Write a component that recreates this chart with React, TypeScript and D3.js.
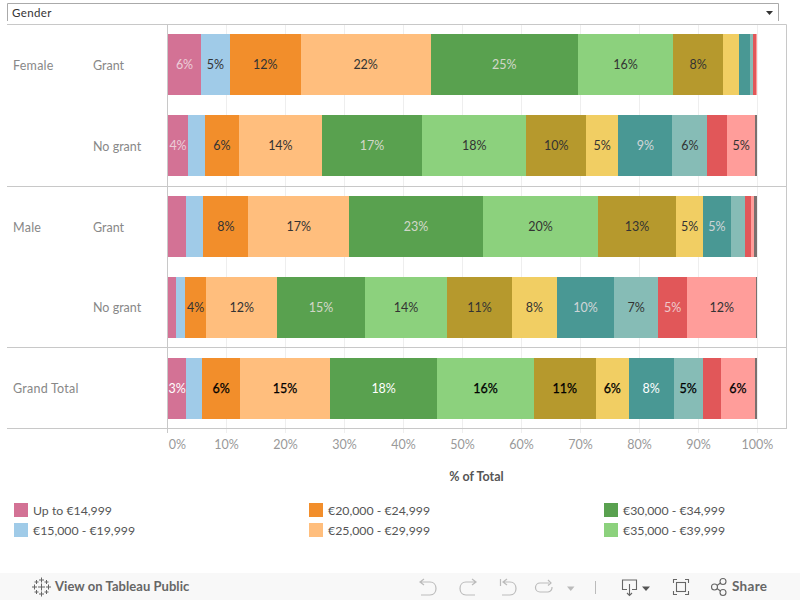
import React from 'react';
import * as d3 from 'd3';

// salary bands, only the first six make it into the legend
const bands = [
    'Up to €14,999', '€15,000 - €19,999', '€20,000 - €24,999', '€25,000 - €29,999',
    '€30,000 - €34,999', '€35,000 - €39,999', '€40,000 - €44,999', '€45,000 - €49,999',
    '€50,000 - €54,999', '€55,000 - €59,999', '€60,000 - €64,999', '€65,000 - €69,999', '€70,000 or more',
];
const colors = ['#D37295', '#A0CBE8', '#F28E2B', '#FFBE7D', '#59A14F', '#8CD17D', '#B6992D', '#F1CE63', '#499894', '#86BCB6', '#E15759', '#FF9D9A', '#79706E'];
const lightText = [0, 4, 8, 10]; // band indexes with pale labels

const rowIds = ['fg', 'fn', 'mg', 'mn', 'gt'];
const groupLabels = ['Female', '', 'Male', '', 'Grand Total'];
const grantLabels = ['Grant', 'No grant', 'Grant', 'No grant', ''];

const femaleGrant = [5.6, 4.9, 12.0, 22.0, 25.0, 16.1, 8.5, 2.7, 1.9, 0.5, 0.4, 0.2, 0.1];
const femaleNoGrant = [3.4, 2.9, 5.7, 14.1, 17.0, 17.6, 10.2, 5.4, 9.2, 5.9, 3.4, 4.7, 0.3];
const maleGrant = [3.1, 2.9, 7.6, 17.1, 22.7, 19.5, 13.2, 4.6, 4.7, 2.4, 1.0, 0.5, 0.5];
const maleNoGrant = [1.4, 1.5, 3.6, 12.0, 14.9, 13.9, 11.0, 7.6, 9.7, 7.5, 4.9, 11.7, 0.2];
const grandTotal = [3.1, 2.7, 6.4, 15.3, 18.1, 16.4, 10.5, 5.6, 7.6, 4.9, 3.1, 5.8, 0.3];
const rowValues = [femaleGrant, femaleNoGrant, maleGrant, maleNoGrant, grandTotal];

// which segments carry a label in the original
const femaleGrantLabels = ['6%', '5%', '12%', '22%', '25%', '16%', '8%', '', '', '', '', '', ''];
const femaleNoGrantLabels = ['4%', '', '6%', '14%', '17%', '18%', '10%', '5%', '9%', '6%', '', '5%', ''];
const maleGrantLabels = ['', '', '8%', '17%', '23%', '20%', '13%', '5%', '5%', '', '', '', ''];
const maleNoGrantLabels = ['', '', '4%', '12%', '15%', '14%', '11%', '8%', '10%', '7%', '5%', '12%', ''];
const grandTotalLabels = ['3%', '', '6%', '15%', '18%', '16%', '11%', '6%', '8%', '5%', '', '6%', ''];
const rowLabels = [femaleGrantLabels, femaleNoGrantLabels, maleGrantLabels, maleNoGrantLabels, grandTotalLabels];

const xTicks = [0, 10, 20, 30, 40, 50, 60, 70, 80, 90, 100];

const FONT = 'Lato, sans-serif';
const LINE = '#c8c8c8';

const plus = (cx: number, cy: number, r: number) => `M${cx - r} ${cy}h${2 * r}M${cx} ${cy - r}v${2 * r}`;

function Toolbar() {
    const stroke = '#bbb';
    return (
        <g>
            <rect x={0} y={573} width={800} height={27} fill="#f8f8f8" />
            {/* tableau mark */}
            <path
                d={[
                    plus(41.5, 587, 3.5),
                    plus(41.5, 580, 2.5), plus(41.5, 594, 2.5), plus(34.5, 587, 2.5), plus(48.5, 587, 2.5),
                    plus(36.5, 582, 2), plus(46.5, 582, 2), plus(36.5, 592, 2), plus(46.5, 592, 2),
                ].join('')}
                stroke="#666" strokeWidth={1} fill="none"
            />
            <text x={55} y={591} fontFamily={FONT} fontSize={13} fontWeight={700} fill="#666" letterSpacing={0.05}>View on Tableau Public</text>
            <g stroke={stroke} strokeWidth={1.2} fill="none">
                <path d="M424 579l-4 3 4 3M420 582h10c8 0 8 13 0 13h-9" />
                <path d="M472 579l4 3-4 3M476 582h-10c-8 0-8 13 0 13h9" />
                <path d="M500.500 579v7M507 579l-4 3 4 3M503 582h7c8 0 8 13 0 13h-8" />
                <path d="M549 583h-9a4.500 4.500 0 0 0 0 9h8a4.500 4.500 0 0 0 4-5M548 580l3 3-3 2.500" />
            </g>
            <path d="M567 586.500h7.500l-3.750 4.500z" fill={stroke} />
            <path d="M595.5 581v13" stroke={stroke} strokeWidth={1} />
            <g stroke="#666" strokeWidth={1.1} fill="none">
                <path d="M627 589.500h-4.500v-9.500h14v9.500h-4.500M629.500 584v11M627 593l2.500 2.500 2.500-2.500" />
                <path d="M677 579.500h-3.500v3.500M685 579.500h3.500v3.500M677 594.500h-3.500v-3.500M685 594.500h3.500v-3.500" />
                <rect x={676.5} y={582.5} width={9} height={9} />
                <circle cx={714.5} cy={587} r={3} />
                <circle cx={723} cy={581.5} r={3} />
                <circle cx={723} cy={592.5} r={3} />
                <path d="M717 585.500l3.500-2.500M717 588.500l3.500 2.500" />
            </g>
            <path d="M642 586.500h8l-4 4.500z" fill="#555" />
            <text x={732} y={591} fontFamily={FONT} fontSize={13.5} fontWeight={700} fill="#666" letterSpacing={0.3}>Share</text>
        </g>
    );
}

export default function App() {
    const x = d3.scaleLinear().domain([0, 100]).range([167.5, 757.5]);
    const barX = d3.scaleLinear().domain([0, 100]).range([168, 758]);
    const y = d3.scaleBand<string>().domain(rowIds).range([24.5, 428.5]).paddingInner(0.245).paddingOuter(0.1225);
    const color = d3.scaleOrdinal<string, string>().domain(bands).range(colors);

    const table = rowIds.map((id, r) => {
        const row: any = { id };
        bands.forEach((b, i) => { row[b] = rowValues[r][i]; });
        return row;
    });
    const series = d3.stack().keys(bands)(table);

    return (
        <svg width={800} height={600} style={{ position: 'absolute', left: 0, top: 0, background: '#fff' }} fontFamily={FONT}>
            {/* filter box */}
            <path d="M7.500 21V3.500H778.500V21" fill="none" stroke="#aaa" />
            <text x={12} y={17} fontSize={11.500} fill="#333" letterSpacing={0.4}>Gender</text>
            <path d="M766 11h7l-3.500 4z" fill="#333" />

            {/* grid */}
            {xTicks.map(t => (
                <line key={t} x1={x(t)} x2={x(t)} y1={24.5} y2={433} stroke="#eee" />
            ))}

            {/* bars */}
            {series.map((s, i) => s.map((d, r) => (
                <rect
                    key={bands[i] + r}
                    x={barX(d[0])}
                    y={y(rowIds[r])}
                    width={barX(d[1]) - barX(d[0])}
                    height={y.bandwidth()}
                    fill={color(bands[i])}
                    shapeRendering="crispEdges"
                />
            )))}
            {series.map((s, i) => s.map((d, r) => rowLabels[r][i] && (
                <text
                    key={bands[i] + r}
                    x={(barX(d[0]) + barX(d[1])) / 2}
                    y={y(rowIds[r])! + y.bandwidth() / 2 + 4.5}
                    textAnchor="middle"
                    fontSize={12.500}
                    fill={lightText.includes(i) ? (r === 4 ? '#fff' : '#f3e6ea') : (r === 4 ? '#000' : '#333')}
                    fillOpacity={lightText.includes(i) && r !== 4 ? 0.8 : 1}
                    stroke={r === 4 && !lightText.includes(i) ? '#000' : 'none'}
                    strokeWidth={0.25}
                >
                    {rowLabels[r][i]}
                </text>
            )))}

            {/* frame */}
            <path d="M7 24.500H786.500V429M7 186.500H786.500M7 347.500H786.500M7 428.500H786.500" fill="none" stroke={LINE} />
            <line x1={167.5} x2={167.5} y1={24.5} y2={433} stroke={LINE} />

            {/* row headers */}
            {rowIds.map((id, r) => (
                <g key={id} fontSize={12.500} fill="#888">
                    <text x={13} y={y(id)! + y.bandwidth() / 2 + 5} letterSpacing={0.25}>{groupLabels[r]}</text>
                    <text x={93} y={y(id)! + y.bandwidth() / 2 + 5}>{grantLabels[r]}</text>
                </g>
            ))}

            {/* axis */}
            {xTicks.map(t => (
                <text key={t} x={t === 0 ? 177.5 : x(t)} y={449} textAnchor="middle" fontSize={12.500} fill="#999">{t}%</text>
            ))}
            <text x={476.500} y={481} textAnchor="middle" fontSize={12.500} fontWeight={700} fill="#555">% of Total</text>

            {/* legend, filled by column */}
            {bands.slice(0, 6).map((b, i) => {
                const lx = [14, 309, 604][Math.floor(i / 2)];
                const ly = 503 + (i % 2) * 20;
                return (
                    <g key={b}>
                        <rect x={lx} y={ly} width={14} height={14} fill={color(b)} />
                        <text x={lx + 19} y={ly + 12} fontSize={12.300} fill="#555">{b}</text>
                    </g>
                );
            })}

            <Toolbar />
        </svg>
    );
}
